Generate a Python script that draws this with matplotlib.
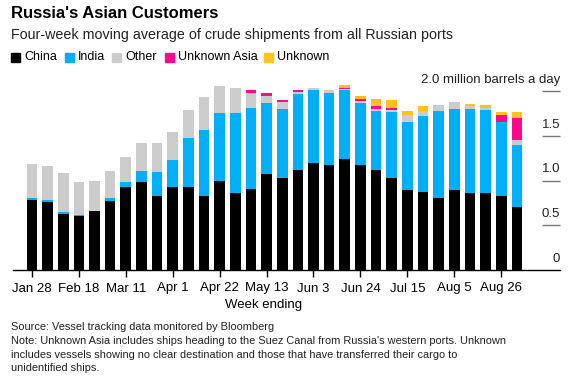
import numpy as np
import matplotlib.pyplot as plt

plt.rcParams['font.family'] = ['Liberation Sans', 'DejaVu Sans']

weeks = ["Jan 28", "Feb 4", "Feb 11", "Feb 18", "Feb 25", "Mar 4", "Mar 11", "Mar 18",
         "Mar 25", "Apr 1", "Apr 8", "Apr 15", "Apr 22", "Apr 29", "May 6", "May 13",
         "May 20", "May 27", "Jun 3", "Jun 10", "Jun 17", "Jun 24", "Jul 1", "Jul 8",
         "Jul 15", "Jul 22", "Jul 29", "Aug 5", "Aug 12", "Aug 19", "Aug 26", "Sep 2"]
tick_labels = ["Jan 28", "Feb 18", "Mar 11", "Apr 1", "Apr 22", "May 13",
               "Jun 3", "Jun 24", "Jul 15", "Aug 5", "Aug 26"]

china = [0.78, 0.765, 0.63, 0.60, 0.66, 0.77, 0.93, 0.98, 0.83, 0.93, 0.93, 0.83,
         0.99, 0.86, 0.91, 1.075, 1.03, 1.12, 1.20, 1.175, 1.24, 1.17, 1.12, 1.03,
         0.90, 0.87, 0.81, 0.89, 0.86, 0.86, 0.83, 0.71]
india = [0.03, 0.02, 0.02, 0.02, 0.0, 0.04, 0.05, 0.13, 0.27, 0.30, 0.545, 0.74,
         0.77, 0.90, 0.90, 0.79, 0.77, 0.85, 0.81, 0.81, 0.77, 0.70, 0.66, 0.74,
         0.75, 0.855, 0.97, 0.91, 0.945, 0.93, 0.82, 0.69]
other = [0.38, 0.38, 0.43, 0.36, 0.34, 0.30, 0.28, 0.31, 0.32, 0.31, 0.32, 0.37,
         0.30, 0.28, 0.175, 0.08, 0.08, 0.02, 0.03, 0.03, 0.01, 0.02, 0.02, 0.02,
         0.08, 0.05, 0.07, 0.075, 0.025, 0.025, 0.01, 0.05]
unknown_asia = [0, 0, 0, 0, 0, 0, 0, 0, 0, 0, 0, 0,
                0, 0, 0.025, 0.035, 0.02, 0.026, 0, 0, 0.015, 0.025, 0.035, 0.025,
                0, 0, 0, 0, 0, 0, 0.07, 0.245]
unknown = [0, 0, 0, 0, 0, 0, 0, 0, 0, 0, 0, 0,
           0, 0, 0, 0, 0, 0, 0, 0, 0.03, 0.035, 0.08, 0.085,
           0.05, 0.055, 0, 0, 0.03, 0.035, 0.035, 0.07]

series = [("China", china, "#000000"),
          ("India", india, "#00aff5"),
          ("Other", other, "#cccccc"),
          ("Unknown Asia", unknown_asia, "#ff0a8c"),
          ("Unknown", unknown, "#ffc21a")]

fig = plt.figure(figsize=(5.73, 3.84), dpi=100)
ax = fig.add_axes([13 / 573, 1 - 270 / 384, 547 / 573, 190 / 384])

x = np.arange(len(weeks))
bottom = np.zeros(len(weeks))
for name, vals, col in series:
    vals = np.array(vals)
    ax.bar(x, vals, bottom=bottom, width=0.68, color=col, linewidth=0)
    bottom += vals

ax.set_xlim(-1.21, 33.76)
ax.set_ylim(0, 2.125)

# short gridlines on the right with labels above them
for v in [0.5, 1.0, 1.5, 2.0]:
    ax.plot([32.6, 33.76], [v, v], color="#777777", lw=1, solid_capstyle="butt", clip_on=False)
for v, lab in [(0, "0"), (0.5, "0.5"), (1.0, "1.0"), (1.5, "1.5")]:
    ax.text(33.76, v + 0.06, lab, ha="right", va="bottom", fontsize=9.5, color="#222222")
ax.text(33.76, 2.06, "2.0 million barrels a day", ha="right", va="bottom", fontsize=9.5, color="#222222")

for s in ["top", "right", "left"]:
    ax.spines[s].set_visible(False)
ax.spines["bottom"].set_color("#000000")
ax.spines["bottom"].set_linewidth(1)
ax.set_yticks([])
ax.set_xticks([weeks.index(t) for t in tick_labels])
ax.set_xticklabels(tick_labels, fontsize=9.5)
ax.tick_params(axis="x", length=5, width=1, pad=4, colors="#000000")

fig.text(264 / 573, 1 - 305 / 384, "Week ending", ha="center", va="center", fontsize=9.5)

fig.text(11 / 573, 1 - 13 / 384, "Russia's Asian Customers", fontsize=12, fontweight="bold", va="center")
fig.text(11 / 573, 1 - 35 / 384, "Four-week moving average of crude shipments from all Russian ports",
         fontsize=10.3, va="center", color="#222222")

legend_x = [11, 65, 112, 165, 264]
for (name, vals, col), lx in zip(series, legend_x):
    fig.patches.append(plt.Rectangle((lx / 573, 1 - 62 / 384), 9 / 573, 9 / 384,
                                     transform=fig.transFigure, color=col))
    fig.text((lx + 13) / 573, 1 - 57.5 / 384, name, fontsize=9, va="center")

notes = ["Source: Vessel tracking data monitored by Bloomberg",
         "Note: Unknown Asia includes ships heading to the Suez Canal from Russia's western ports. Unknown",
         "includes vessels showing no clear destination and those that have transferred their cargo to",
         "unidentified ships."]
for i, line in enumerate(notes):
    fig.text(11 / 573, 1 - (327 + i * 13.8) / 384, line, fontsize=7.9, va="center", color="#222222")

fig.savefig("out.png", dpi=100)
